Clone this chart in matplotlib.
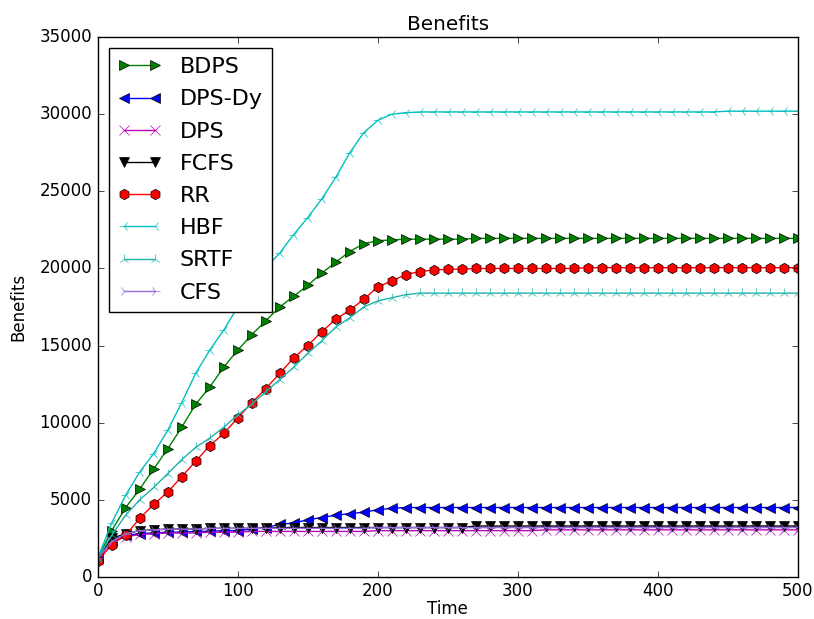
import numpy as np
import matplotlib
matplotlib.use("Agg")
import matplotlib.pyplot as plt

plt.style.use('classic')

time = np.arange(0, 501, 10)

# benefits, one value every 10 time units
bdps = [1200, 3000, 4500, 5700, 7000, 8300, 9700, 11200, 12300, 13600,
        14700, 15700, 16600, 17500, 18200, 18900, 19700, 20400, 21100, 21600,
        21800, 21850, 21900, 21900, 21900, 21900, 21900, 21950, 21950, 21950,
        21950, 21950, 21950, 21950, 21950, 21950, 21950, 21950, 21950, 21950,
        21950, 21950, 21950, 21950, 21950, 21950, 21950, 21950, 21950, 21950,
        21950]
dps_dy = [1200, 2300, 2700, 2800, 2850, 2900, 2900, 2950, 2950, 3000,
          3000, 3100, 3200, 3400, 3500, 3700, 3850, 4000, 4100, 4200,
          4350, 4450, 4500, 4500, 4500, 4500, 4500, 4500, 4500, 4500,
          4500, 4500, 4500, 4500, 4500, 4500, 4500, 4500, 4500, 4500,
          4500, 4500, 4500, 4500, 4500, 4500, 4500, 4500, 4500, 4500,
          4500]
dps = [1100, 2300, 2600, 2750, 2800, 2850, 2850, 2850, 2900, 2900,
       2900, 2950, 2950, 2950, 2950, 2950, 2950, 2950, 2950, 2950,
       3000, 3000, 3000, 3000, 3000, 3000, 3000, 3000, 3000, 3000,
       3000, 3000, 3050, 3050, 3050, 3050, 3050, 3050, 3050, 3050,
       3050, 3050, 3050, 3050, 3050, 3050, 3050, 3050, 3050, 3050,
       3050]
fcfs = [1200, 2500, 2800, 3000, 3050, 3100, 3100, 3100, 3150, 3150,
        3150, 3150, 3150, 3200, 3200, 3200, 3200, 3200, 3200, 3200,
        3200, 3200, 3200, 3200, 3200, 3200, 3200, 3300, 3300, 3300,
        3300, 3300, 3300, 3300, 3300, 3300, 3300, 3300, 3300, 3300,
        3300, 3300, 3300, 3300, 3300, 3300, 3300, 3300, 3300, 3300,
        3300]
rr = [1000, 2100, 2700, 3800, 4700, 5500, 6500, 7500, 8500, 9300,
      10300, 11300, 12200, 13200, 14200, 15000, 15900, 16700, 17300, 18000,
      18800, 19200, 19600, 19800, 19900, 19950, 19950, 20000, 20000, 20000,
      20000, 20000, 20000, 20000, 20000, 20050, 20050, 20050, 20050, 20050,
      20050, 20050, 20050, 20050, 20050, 20050, 20050, 20050, 20050, 20050,
      20050]
hbf = [1200, 3500, 5300, 6800, 8000, 9500, 11300, 13200, 14700, 16000,
       17500, 19000, 20000, 21000, 22200, 23300, 24500, 25900, 27500, 28800,
       29600, 30000, 30100, 30150, 30150, 30150, 30150, 30150, 30150, 30150,
       30150, 30150, 30150, 30150, 30150, 30150, 30150, 30150, 30150, 30150,
       30150, 30150, 30150, 30150, 30150, 30200, 30200, 30200, 30200, 30200,
       30200]
srtf = [1200, 2700, 4000, 5000, 5800, 6700, 7600, 8400, 9000, 9700,
        10500, 11200, 12000, 12800, 13600, 14500, 15300, 16200, 16800, 17500,
        17900, 18100, 18300, 18400, 18400, 18400, 18400, 18400, 18400, 18400,
        18400, 18400, 18400, 18400, 18400, 18400, 18400, 18400, 18400, 18400,
        18400, 18400, 18400, 18400, 18400, 18400, 18400, 18400, 18400, 18400,
        18400]
cfs = [1200, 2300, 2800, 3000, 3050, 3100, 3100, 3100, 3150, 3150,
       3150, 3150, 3150, 3150, 3150, 3150, 3150, 3150, 3150, 3150,
       3200, 3200, 3200, 3200, 3200, 3200, 3200, 3200, 3200, 3200,
       3200, 3200, 3200, 3200, 3200, 3200, 3200, 3200, 3200, 3200,
       3200, 3200, 3200, 3200, 3200, 3200, 3200, 3200, 3200, 3200,
       3200]

fig = plt.figure(figsize=(8.14, 6.19), dpi=100)
ax = fig.add_subplot(111)
fig.subplots_adjust(left=0.12, right=0.98, top=0.94, bottom=0.068)

ms = 7.5
ax.plot(time, bdps, 'g>-', markersize=ms, label='BDPS')
ax.plot(time, dps_dy, 'b<-', markersize=ms, label='DPS-Dy')
ax.plot(time, dps, 'mx-', markersize=ms, label='DPS')
ax.plot(time, fcfs, 'kv-', markersize=ms, label='FCFS')
ax.plot(time, rr, 'rh-', markersize=ms, label='RR')
ax.plot(time, hbf, 'c3-', markersize=ms, label='HBF')
ax.plot(time, srtf, '2-', color='lightseagreen', markersize=ms, label='SRTF')
ax.plot(time, cfs, '4-', color='mediumpurple', markersize=ms, label='CFS')

ax.set_xlim(0, 500)
ax.set_ylim(0, 35000)
ax.set_xlabel('Time', labelpad=0)
ax.set_ylabel('Benefits', labelpad=9)
ax.set_title('Benefits')
ax.legend(loc='upper left', fontsize=16, labelspacing=0.55)

fig.savefig('out.png', dpi=100)
